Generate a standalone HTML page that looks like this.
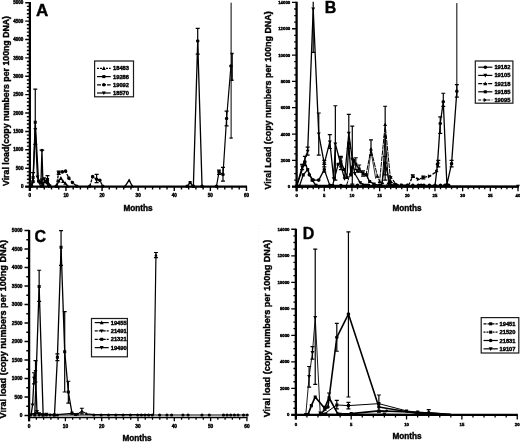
<!DOCTYPE html>
<html lang="en">
<head>
<meta charset="utf-8">
<title>Viral load charts</title>
<style>
html,body{margin:0;padding:0;background:#fff;}
body{width:520px;height:442px;overflow:hidden;}
svg{display:block;font-family:"Liberation Sans",Arial,Helvetica,sans-serif;fill:#000;}
text{stroke:#000;stroke-width:0.4;}
</style>
</head>
<body>
<svg width="520" height="442" viewBox="0 0 520 442">
<rect width="520" height="442" fill="#fff"/>
<g filter="url(#soft)">
<path d="M29.85 2.1V191.1M25.25 186.6H247.05" fill="none" stroke="#000" stroke-width="2.3" stroke-linecap="butt"/>
<path d="M29.85 186.6v4.5M37.07 186.6v3M44.29 186.6v3M51.51 186.6v3M58.73 186.6v3M65.95 186.6v4.5M73.17 186.6v3M80.39 186.6v3M87.61 186.6v3M94.83 186.6v3M102.05 186.6v4.5M109.27 186.6v3M116.49 186.6v3M123.71 186.6v3M130.93 186.6v3M138.15 186.6v4.5M145.37 186.6v3M152.59 186.6v3M159.81 186.6v3M167.03 186.6v3M174.25 186.6v4.5M181.47 186.6v3M188.69 186.6v3M195.91 186.6v3M203.13 186.6v3M210.35 186.6v4.5M217.57 186.6v3M224.79 186.6v3M232.01 186.6v3M239.23 186.6v3M246.45 186.6v4.5M29.85 186.6h-4.6M29.85 182.92h-3M29.85 179.24h-3M29.85 175.57h-3M29.85 171.89h-3M29.85 168.21h-4.6M29.85 164.53h-3M29.85 160.85h-3M29.85 157.18h-3M29.85 153.5h-3M29.85 149.82h-4.6M29.85 146.14h-3M29.85 142.46h-3M29.85 138.79h-3M29.85 135.11h-3M29.85 131.43h-4.6M29.85 127.75h-3M29.85 124.07h-3M29.85 120.4h-3M29.85 116.72h-3M29.85 113.04h-4.6M29.85 109.36h-3M29.85 105.68h-3M29.85 102.01h-3M29.85 98.33h-3M29.85 94.65h-4.6M29.85 90.97h-3M29.85 87.29h-3M29.85 83.62h-3M29.85 79.94h-3M29.85 76.26h-4.6M29.85 72.58h-3M29.85 68.9h-3M29.85 65.23h-3M29.85 61.55h-3M29.85 57.87h-4.6M29.85 54.19h-3M29.85 50.51h-3M29.85 46.84h-3M29.85 43.16h-3M29.85 39.48h-4.6M29.85 35.8h-3M29.85 32.12h-3M29.85 28.45h-3M29.85 24.77h-3M29.85 21.09h-4.6M29.85 17.41h-3M29.85 13.73h-3M29.85 10.06h-3M29.85 6.38h-3M29.85 2.7h-4.6" fill="none" stroke="#000" stroke-width="1.4"/>
<g font-size="4.6" font-weight="bold" text-anchor="middle" stroke-width="0.45">
<text x="29.85" y="196.8">0</text>
<text x="65.95" y="196.8">10</text>
<text x="102.05" y="196.8">20</text>
<text x="138.15" y="196.8">30</text>
<text x="174.25" y="196.8">40</text>
<text x="210.35" y="196.8">50</text>
<text x="246.45" y="196.8">60</text>
</g>
<g font-size="4.6" font-weight="bold" text-anchor="end" stroke-width="0.45">
<text x="23.45" y="188.26">0</text>
<text x="23.45" y="169.87">500</text>
<text x="23.45" y="151.48">1000</text>
<text x="23.45" y="133.09">1500</text>
<text x="23.45" y="114.7">2000</text>
<text x="23.45" y="96.31">2500</text>
<text x="23.45" y="77.92">3000</text>
<text x="23.45" y="59.53">3500</text>
<text x="23.45" y="41.14">4000</text>
<text x="23.45" y="22.75">4500</text>
<text x="23.45" y="4.36">5000</text>
</g>
<text x="36" y="15.7" font-size="17" font-weight="bold" stroke="none">A</text>
<text transform="translate(8.9 101) rotate(-90)" text-anchor="middle" font-size="8.6" font-weight="bold" textLength="170" lengthAdjust="spacingAndGlyphs">Viral load(copy numbers per 100ng DNA)</text>
<text x="138" y="210.5" text-anchor="middle" font-size="8.2" font-weight="bold">Months</text>
<path d="M31.29 185.86L33.1 177.41L35.27 122.23L38.51 181.08L40.68 182.19L42.85 183.66L45.37 181.45L47.54 179.61L49.7 185.86" fill="none" stroke="#000" stroke-width="1.3" stroke-linejoin="round"/>
<path d="M33.1 172.62V182.19M31.1 172.62h4M31.1 182.19h4" fill="none" stroke="#000" stroke-width="1.2"/>
<path d="M35.27 89.13V144.3M33.27 89.13h4M33.27 144.3h4" fill="none" stroke="#000" stroke-width="1.2"/>
<path d="M47.54 175.57V183.66M45.54 175.57h4M45.54 183.66h4" fill="none" stroke="#000" stroke-width="1.2"/>
<path d="M29.76 184.33h3.06v3.06h-3.06zM31.57 175.88h3.06v3.06h-3.06zM33.73 120.7h3.06v3.06h-3.06zM36.98 179.55h3.06v3.06h-3.06zM39.15 180.66h3.06v3.06h-3.06zM41.32 182.13h3.06v3.06h-3.06zM43.84 179.92h3.06v3.06h-3.06zM46.01 178.08h3.06v3.06h-3.06zM48.17 184.33h3.06v3.06h-3.06z" fill="#000"/>
<path d="M31.29 186.23L33.1 181.82L35.27 129.59L37.43 177.04L39.6 183.29L41.76 179.98L44.29 178.88L46.46 182.19L48.62 186.23" fill="none" stroke="#000" stroke-width="1.3" stroke-linejoin="round"/>
<path d="M31.29 188.3L33.27 184.7L29.31 184.7zM33.1 183.89L35.08 180.29L31.12 180.29zM35.27 131.66L37.24 128.06L33.29 128.06zM37.43 179.11L39.41 175.51L35.45 175.51zM39.6 185.36L41.58 181.76L37.62 181.76zM41.76 182.05L43.74 178.45L39.78 178.45zM44.29 180.95L46.27 177.35L42.31 177.35zM46.46 184.26L48.44 180.66L44.48 180.66zM48.62 188.3L50.6 184.7L46.64 184.7z" fill="#000"/>
<path d="M40.86 186.23L41.94 150.19L43.03 186.23" fill="none" stroke="#000" stroke-width="1.3" stroke-linejoin="round"/>
<path d="M39.36 186.23a1.5 1.5 0 1 0 3 0a1.5 1.5 0 1 0 -3 0zM40.44 150.19a1.5 1.5 0 1 0 3 0a1.5 1.5 0 1 0 -3 0zM41.53 186.23a1.5 1.5 0 1 0 3 0a1.5 1.5 0 1 0 -3 0z" fill="#000"/>
<path d="M41.94 150.19V150.19M39.64 150.19h4.6M39.64 150.19h4.6" fill="none" stroke="#000" stroke-width="1.2"/>
<path d="M56.2 186.23L58.73 172.62L62.34 171.89L65.59 171.15L68.84 178.14L72.45 182.55L76.78 186.23" fill="none" stroke="#000" stroke-width="1.3" stroke-linejoin="round" stroke-dasharray="3 1"/>
<path d="M58.73 171.15V174.46M56.73 171.15h4M56.73 174.46h4" fill="none" stroke="#000" stroke-width="1.2"/>
<path d="M54.4 186.23a1.8 1.8 0 1 0 3.6 0a1.8 1.8 0 1 0 -3.6 0zM56.93 172.62a1.8 1.8 0 1 0 3.6 0a1.8 1.8 0 1 0 -3.6 0zM60.54 171.89a1.8 1.8 0 1 0 3.6 0a1.8 1.8 0 1 0 -3.6 0zM63.79 171.15a1.8 1.8 0 1 0 3.6 0a1.8 1.8 0 1 0 -3.6 0zM67.04 178.14a1.8 1.8 0 1 0 3.6 0a1.8 1.8 0 1 0 -3.6 0zM70.65 182.55a1.8 1.8 0 1 0 3.6 0a1.8 1.8 0 1 0 -3.6 0zM74.98 186.23a1.8 1.8 0 1 0 3.6 0a1.8 1.8 0 1 0 -3.6 0z" fill="#000"/>
<path d="M56.56 186.23L58.73 181.08L60.9 178.14L63.06 181.45L65.23 183.29L67.75 186.23" fill="none" stroke="#000" stroke-width="1.3" stroke-linejoin="round"/>
<path d="M56.56 184.16L58.54 187.76L54.58 187.76zM58.73 179.01L60.71 182.61L56.75 182.61zM60.9 176.07L62.88 179.67L58.92 179.67zM63.06 179.38L65.04 182.98L61.08 182.98zM65.23 181.22L67.21 184.82L63.25 184.82zM67.75 184.16L69.73 187.76L65.77 187.76z" fill="#000"/>
<path d="M89.78 186.23L92.66 176.67L96.63 179.24L99.88 180.35L102.77 186.23" fill="none" stroke="#000" stroke-width="1.3" stroke-linejoin="round" stroke-dasharray="3 1"/>
<path d="M96.63 174.46V182.55M94.63 174.46h4M94.63 182.55h4" fill="none" stroke="#000" stroke-width="1.2"/>
<path d="M87.98 186.23a1.8 1.8 0 1 0 3.6 0a1.8 1.8 0 1 0 -3.6 0zM90.86 176.67a1.8 1.8 0 1 0 3.6 0a1.8 1.8 0 1 0 -3.6 0zM94.83 179.24a1.8 1.8 0 1 0 3.6 0a1.8 1.8 0 1 0 -3.6 0zM98.08 180.35a1.8 1.8 0 1 0 3.6 0a1.8 1.8 0 1 0 -3.6 0zM100.97 186.23a1.8 1.8 0 1 0 3.6 0a1.8 1.8 0 1 0 -3.6 0z" fill="#000"/>
<path d="M125.15 186.23L129.12 180.16L132.37 186.23" fill="none" stroke="#000" stroke-width="1.3" stroke-linejoin="round"/>
<path d="M125.15 184.51L126.8 187.51L123.5 187.51zM129.12 178.44L130.78 181.44L127.47 181.44zM132.37 184.51L134.02 187.51L130.72 187.51z" fill="#000"/>
<path d="M187.25 186.23L190.13 182.55L193.02 186.23" fill="none" stroke="#000" stroke-width="1.3" stroke-linejoin="round"/>
<path d="M185.72 184.7h3.06v3.06h-3.06zM188.6 181.02h3.06v3.06h-3.06zM191.49 184.7h3.06v3.06h-3.06z" fill="#000"/>
<path d="M193.38 186.23L197.71 40.95L202.05 186.23" fill="none" stroke="#000" stroke-width="1.3" stroke-linejoin="round"/>
<path d="M197.71 28.45V54.19M195.71 28.45h4M195.71 54.19h4" fill="none" stroke="#000" stroke-width="1.2"/>
<path d="M191.58 186.23a1.8 1.8 0 1 0 3.6 0a1.8 1.8 0 1 0 -3.6 0zM195.91 40.95a1.8 1.8 0 1 0 3.6 0a1.8 1.8 0 1 0 -3.6 0zM200.25 186.23a1.8 1.8 0 1 0 3.6 0a1.8 1.8 0 1 0 -3.6 0z" fill="#000"/>
<path d="M216.49 186.23L219.01 171.89L222.98 174.46L226.59 118.56L230.93 65.96" fill="none" stroke="#000" stroke-width="1.2" stroke-linejoin="round"/>
<path d="M219.01 170.05V174.46M217.01 170.05h4M217.01 174.46h4" fill="none" stroke="#000" stroke-width="1.2"/>
<path d="M222.98 167.47V181.08M220.98 167.47h4M220.98 181.08h4" fill="none" stroke="#000" stroke-width="1.2"/>
<path d="M226.59 111.2V125.91M224.59 111.2h4M224.59 125.91h4" fill="none" stroke="#000" stroke-width="1.2"/>
<path d="M214.69 186.23a1.8 1.8 0 1 0 3.6 0a1.8 1.8 0 1 0 -3.6 0zM217.21 171.89a1.8 1.8 0 1 0 3.6 0a1.8 1.8 0 1 0 -3.6 0zM221.18 174.46a1.8 1.8 0 1 0 3.6 0a1.8 1.8 0 1 0 -3.6 0zM224.79 118.56a1.8 1.8 0 1 0 3.6 0a1.8 1.8 0 1 0 -3.6 0zM229.13 65.96a1.8 1.8 0 1 0 3.6 0a1.8 1.8 0 1 0 -3.6 0z" fill="#000"/>
<path d="M232.01 53.46V80.31M230.41 53.46h3.2M230.41 80.31h3.2" fill="none" stroke="#000" stroke-width="1.6"/>
<path d="M231.11 2.7V138.05M231.11 2.7h0M231.11 138.05h0" fill="none" stroke="#000" stroke-width="1.0"/>
<path d="M231.11 138.05V138.05M229.51 138.05h3.2M229.51 138.05h3.2" fill="none" stroke="#000" stroke-width="0.8"/>
<rect x="94.6" y="61" width="38.9" height="35.8" fill="#fff" stroke="#1a1a1a" stroke-width="1.2"/>
<path d="M97 68.4H110.7" stroke="#000" stroke-width="1.2" fill="none" stroke-dasharray="2 1"/>
<path d="M103.85 66.33L105.83 69.93L101.87 69.93z" fill="#000"/>
<text x="113" y="70.47" font-size="5.75" font-weight="bold" stroke-width="0.35">18483</text>
<path d="M97 76.6H110.7" stroke="#000" stroke-width="1.2" fill="none"/>
<path d="M102.32 75.07h3.06v3.06h-3.06z" fill="#000"/>
<text x="113" y="78.67" font-size="5.75" font-weight="bold" stroke-width="0.35">19286</text>
<path d="M97 84.8H110.7" stroke="#000" stroke-width="1.2" fill="none" stroke-dasharray="4 1"/>
<path d="M102.05 84.8a1.8 1.8 0 1 0 3.6 0a1.8 1.8 0 1 0 -3.6 0z" fill="#000"/>
<text x="113" y="86.87" font-size="5.75" font-weight="bold" stroke-width="0.35">19092</text>
<path d="M97 93H110.7" stroke="#000" stroke-width="1.2" fill="none"/>
<path d="M103.85 95.07L105.83 91.47L101.87 91.47z" fill="#000"/>
<text x="113" y="95.07" font-size="5.75" font-weight="bold" stroke-width="0.35">18570</text>
<path d="M296.6 1.8V191.3M292 186.7H518.6" fill="none" stroke="#000" stroke-width="2.3" stroke-linecap="butt"/>
<path d="M296.6 186.7v4.6M302.14 186.7v2.6M307.67 186.7v2.6M313.21 186.7v2.6M318.74 186.7v2.6M324.28 186.7v4.6M329.81 186.7v2.6M335.35 186.7v2.6M340.88 186.7v2.6M346.42 186.7v2.6M351.95 186.7v4.6M357.49 186.7v2.6M363.02 186.7v2.6M368.56 186.7v2.6M374.09 186.7v2.6M379.62 186.7v4.6M385.16 186.7v2.6M390.7 186.7v2.6M396.23 186.7v2.6M401.77 186.7v2.6M407.3 186.7v4.6M412.84 186.7v2.6M418.37 186.7v2.6M423.91 186.7v2.6M429.44 186.7v2.6M434.98 186.7v4.6M440.51 186.7v2.6M446.05 186.7v2.6M451.58 186.7v2.6M457.12 186.7v2.6M462.65 186.7v4.6M468.19 186.7v2.6M473.72 186.7v2.6M479.25 186.7v2.6M484.79 186.7v2.6M490.33 186.7v4.6M495.86 186.7v2.6M501.4 186.7v2.6M506.93 186.7v2.6M512.47 186.7v2.6M518 186.7v4.6M296.6 186.7h-4.6M296.6 180.12h-2.4M296.6 173.54h-2.4M296.6 166.95h-2.4M296.6 160.37h-4.6M296.6 153.79h-2.4M296.6 147.21h-2.4M296.6 140.63h-2.4M296.6 134.04h-4.6M296.6 127.46h-2.4M296.6 120.88h-2.4M296.6 114.3h-2.4M296.6 107.72h-4.6M296.6 101.13h-2.4M296.6 94.55h-2.4M296.6 87.97h-2.4M296.6 81.39h-4.6M296.6 74.81h-2.4M296.6 68.22h-2.4M296.6 61.64h-2.4M296.6 55.06h-4.6M296.6 48.48h-2.4M296.6 41.9h-2.4M296.6 35.31h-2.4M296.6 28.73h-4.6M296.6 22.15h-2.4M296.6 15.57h-2.4M296.6 8.99h-2.4M296.6 2.4h-4.6" fill="none" stroke="#000" stroke-width="1.3"/>
<g font-size="4.3" font-weight="bold" text-anchor="middle" stroke-width="0.45">
<text x="296.6" y="196.9">0</text>
<text x="324.28" y="196.9">5</text>
<text x="351.95" y="196.9">10</text>
<text x="379.62" y="196.9">15</text>
<text x="407.3" y="196.9">20</text>
<text x="434.98" y="196.9">25</text>
<text x="462.65" y="196.9">30</text>
<text x="490.33" y="196.9">35</text>
<text x="518" y="196.9">40</text>
</g>
<g font-size="4.3" font-weight="bold" text-anchor="end" stroke-width="0.45">
<text x="290.2" y="188.25">0</text>
<text x="290.2" y="161.92">2000</text>
<text x="290.2" y="135.59">4000</text>
<text x="290.2" y="109.26">6000</text>
<text x="290.2" y="82.94">8000</text>
<text x="290.2" y="56.61">10000</text>
<text x="290.2" y="30.28">12000</text>
<text x="290.2" y="3.95">14000</text>
</g>
<text x="324.7" y="13.3" font-size="16" font-weight="bold" stroke="none">B</text>
<text transform="translate(270.8 100.4) rotate(-90)" text-anchor="middle" font-size="8.9" font-weight="bold" textLength="178" lengthAdjust="spacingAndGlyphs">Viral Load (copy numbers per 100ng DNA)</text>
<text x="407" y="210.5" text-anchor="middle" font-size="8.2" font-weight="bold">Months</text>
<path d="M296.6 186.31L302.14 166.95L307.67 151.16L313.21 8.99L318.74 134.04L324.28 163.66L329.81 141.94L333.68 178.8L335.35 143.92L340.88 164.98L344.53 178.8L348.8 133.39L352.28 159.19L354.72 173.54L360.25 182.75L365.79 185.38L374.09 185.91L518 186.31" fill="none" stroke="#000" stroke-width="1.3" stroke-linejoin="round"/>
<path d="M302.14 164.32V169.59M300.14 164.32h4M300.14 169.59h4" fill="none" stroke="#000" stroke-width="1.2"/>
<path d="M307.67 147.21V155.11M305.67 147.21h4M305.67 155.11h4" fill="none" stroke="#000" stroke-width="1.2"/>
<path d="M318.74 112.98V155.11M316.74 112.98h4M316.74 155.11h4" fill="none" stroke="#000" stroke-width="1.2"/>
<path d="M324.28 160.37V166.95M322.28 160.37h4M322.28 166.95h4" fill="none" stroke="#000" stroke-width="1.2"/>
<path d="M329.81 134.7V148.52M327.81 134.7h4M327.81 148.52h4" fill="none" stroke="#000" stroke-width="1.2"/>
<path d="M335.35 105.74V180.12M333.35 105.74h4M333.35 180.12h4" fill="none" stroke="#000" stroke-width="1.2"/>
<path d="M340.88 157.74V169.59M338.88 157.74h4M338.88 169.59h4" fill="none" stroke="#000" stroke-width="1.2"/>
<path d="M348.8 114.3V148.52M346.8 114.3h4M346.8 148.52h4" fill="none" stroke="#000" stroke-width="1.2"/>
<path d="M352.28 126.15V184.07M350.28 126.15h4M350.28 184.07h4" fill="none" stroke="#000" stroke-width="1.2"/>
<path d="M296.6 188.38L298.58 184.78L294.62 184.78zM302.14 169.02L304.12 165.42L300.16 165.42zM307.67 153.23L309.65 149.63L305.69 149.63zM313.21 11.06L315.19 7.46L311.23 7.46zM318.74 136.11L320.72 132.51L316.76 132.51zM324.28 165.73L326.26 162.13L322.3 162.13zM329.81 144.01L331.79 140.41L327.83 140.41zM333.68 180.87L335.66 177.27L331.7 177.27zM335.35 145.99L337.33 142.39L333.37 142.39zM340.88 167.05L342.86 163.45L338.9 163.45zM344.53 180.87L346.51 177.27L342.55 177.27zM348.8 135.46L350.78 131.86L346.82 131.86zM352.28 161.26L354.26 157.66L350.3 157.66zM354.72 175.61L356.7 172.01L352.74 172.01zM360.25 184.82L362.23 181.22L358.27 181.22zM365.79 187.45L367.77 183.85L363.81 183.85zM374.09 187.98L376.07 184.38L372.11 184.38zM518 188.38L519.98 184.78L516.02 184.78z" fill="#000"/>
<path d="M313.21 52.43V52.43M311.21 52.43h4M311.21 52.43h4" fill="none" stroke="#000" stroke-width="1.2"/>
<path d="M313.21 1.75V52.43M313.21 1.75h0M313.21 52.43h0" fill="none" stroke="#000" stroke-width="1.2"/>
<path d="M296.6 186.31L304.9 161.69L309.33 174.85L313.21 180.12L318.74 180.12L324.28 169.59L329.81 185.38L340.88 185.65L351.95 186.04" fill="none" stroke="#000" stroke-width="1.3" stroke-linejoin="round"/>
<path d="M304.9 156.42V165.64M302.9 156.42h4M302.9 165.64h4" fill="none" stroke="#000" stroke-width="1.2"/>
<path d="M324.28 164.32V172.22M322.28 164.32h4M322.28 172.22h4" fill="none" stroke="#000" stroke-width="1.2"/>
<path d="M294.8 186.31a1.8 1.8 0 1 0 3.6 0a1.8 1.8 0 1 0 -3.6 0zM303.1 161.69a1.8 1.8 0 1 0 3.6 0a1.8 1.8 0 1 0 -3.6 0zM307.53 174.85a1.8 1.8 0 1 0 3.6 0a1.8 1.8 0 1 0 -3.6 0zM311.41 180.12a1.8 1.8 0 1 0 3.6 0a1.8 1.8 0 1 0 -3.6 0zM316.94 180.12a1.8 1.8 0 1 0 3.6 0a1.8 1.8 0 1 0 -3.6 0zM322.48 169.59a1.8 1.8 0 1 0 3.6 0a1.8 1.8 0 1 0 -3.6 0zM328.01 185.38a1.8 1.8 0 1 0 3.6 0a1.8 1.8 0 1 0 -3.6 0zM339.08 185.65a1.8 1.8 0 1 0 3.6 0a1.8 1.8 0 1 0 -3.6 0zM350.15 186.04a1.8 1.8 0 1 0 3.6 0a1.8 1.8 0 1 0 -3.6 0z" fill="#000"/>
<path d="M299.37 186.31L303.24 174.85L307.67 169.59L312.1 180.12L315.97 185.38L332.58 185.65L338.11 164.32L340.88 161.69L344.2 169.59L346.97 177.49L348.8 143.26L350.84 174.85L353.61 160.37L355.82 164.32L359.15 168.93L363.02 173.54L366.34 174.85L369.66 181.43L374.09 184.07L379.62 185.38" fill="none" stroke="#000" stroke-width="1.3" stroke-linejoin="round"/>
<path d="M340.88 156.42V166.95M338.88 156.42h4M338.88 166.95h4" fill="none" stroke="#000" stroke-width="1.2"/>
<path d="M355.82 157.74V169.59M353.82 157.74h4M353.82 169.59h4" fill="none" stroke="#000" stroke-width="1.2"/>
<path d="M359.15 164.98V172.22M357.15 164.98h4M357.15 172.22h4" fill="none" stroke="#000" stroke-width="1.2"/>
<path d="M363.02 170.9V176.17M361.02 170.9h4M361.02 176.17h4" fill="none" stroke="#000" stroke-width="1.2"/>
<path d="M297.84 184.78h3.06v3.06h-3.06zM301.71 173.32h3.06v3.06h-3.06zM306.14 168.06h3.06v3.06h-3.06zM310.57 178.59h3.06v3.06h-3.06zM314.44 183.85h3.06v3.06h-3.06zM331.05 184.12h3.06v3.06h-3.06zM336.58 162.79h3.06v3.06h-3.06zM339.35 160.16h3.06v3.06h-3.06zM342.67 168.06h3.06v3.06h-3.06zM345.44 175.96h3.06v3.06h-3.06zM347.27 141.73h3.06v3.06h-3.06zM349.31 173.32h3.06v3.06h-3.06zM352.08 158.84h3.06v3.06h-3.06zM354.29 162.79h3.06v3.06h-3.06zM357.62 167.4h3.06v3.06h-3.06zM361.49 172.01h3.06v3.06h-3.06zM364.81 173.32h3.06v3.06h-3.06zM368.13 179.9h3.06v3.06h-3.06zM372.56 182.54h3.06v3.06h-3.06zM378.1 183.85h3.06v3.06h-3.06z" fill="#000"/>
<path d="M346.42 186.04L351.95 166.95L357.49 170.9L366.12 174.52L370.99 149.05L377.41 176.17L379.62 181.43L385.16 124.57L390.7 181.43L395.12 184.73L407.3 185.65" fill="none" stroke="#000" stroke-width="1.0" stroke-linejoin="round" stroke-dasharray="5 0.8"/>
<path d="M370.99 139.84V155.11M368.99 139.84h4M368.99 155.11h4" fill="none" stroke="#000" stroke-width="1.2"/>
<path d="M385.16 106.27V174.85M383.16 106.27h4M383.16 174.85h4" fill="none" stroke="#000" stroke-width="1.2"/>
<path d="M346.42 183.97L348.4 187.57L344.44 187.57zM351.95 164.88L353.93 168.48L349.97 168.48zM357.49 168.83L359.47 172.43L355.5 172.43zM366.12 172.45L368.1 176.05L364.14 176.05zM370.99 146.98L372.97 150.58L369.01 150.58zM377.41 174.1L379.39 177.7L375.43 177.7zM379.62 179.36L381.61 182.96L377.64 182.96zM385.16 122.5L387.14 126.1L383.18 126.1zM390.7 179.36L392.68 182.96L388.72 182.96zM395.12 182.66L397.1 186.26L393.14 186.26zM407.3 183.58L409.28 187.18L405.32 187.18z" fill="#000"/>
<path d="M367.45 178.8L370.99 151.16L375.75 178.8" fill="none" stroke="#000" stroke-width="0.8" stroke-linejoin="round"/>
<path d="M382.39 182.75L385.16 135.76L388.48 182.75" fill="none" stroke="#000" stroke-width="1.0" stroke-linejoin="round"/>
<path d="M382.39 180.68L384.37 184.28L380.41 184.28zM385.16 133.69L387.14 137.29L383.18 137.29zM388.48 180.68L390.46 184.28L386.5 184.28z" fill="#000"/>
<path d="M381.29 186.04L385.16 163L389.59 182.75L393.46 185.91" fill="none" stroke="#000" stroke-width="1.3" stroke-linejoin="round"/>
<path d="M385.16 156.42V180.12M383.16 156.42h4M383.16 180.12h4" fill="none" stroke="#000" stroke-width="1.2"/>
<path d="M379.49 186.04a1.8 1.8 0 1 0 3.6 0a1.8 1.8 0 1 0 -3.6 0zM383.36 163a1.8 1.8 0 1 0 3.6 0a1.8 1.8 0 1 0 -3.6 0zM387.79 182.75a1.8 1.8 0 1 0 3.6 0a1.8 1.8 0 1 0 -3.6 0zM391.66 185.91a1.8 1.8 0 1 0 3.6 0a1.8 1.8 0 1 0 -3.6 0z" fill="#000"/>
<path d="M387.93 185.91L390.7 176.83L395.68 184.07L401.77 185.12L408.41 185.52L412.84 176.17L418.37 179.33L423.35 177.49L429.44 176.17L436.64 171.56L438.3 163" fill="none" stroke="#000" stroke-width="1.3" stroke-linejoin="round" stroke-dasharray="3 1.5"/>
<path d="M412.84 174.85V177.49M410.84 174.85h4M410.84 177.49h4" fill="none" stroke="#000" stroke-width="1.2"/>
<path d="M423.35 176.17V178.8M421.35 176.17h4M421.35 178.8h4" fill="none" stroke="#000" stroke-width="1.2"/>
<path d="M438.3 160.37V166.95M436.3 160.37h4M436.3 166.95h4" fill="none" stroke="#000" stroke-width="1.2"/>
<path d="M390 185.91L386.4 183.93L386.4 187.89zM392.77 176.83L389.17 174.85L389.17 178.81zM397.75 184.07L394.15 182.09L394.15 186.05zM403.84 185.12L400.24 183.14L400.24 187.1zM410.48 185.52L406.88 183.54L406.88 187.5zM414.91 176.17L411.31 174.19L411.31 178.15zM420.44 179.33L416.84 177.35L416.84 181.31zM425.42 177.49L421.82 175.51L421.82 179.47zM431.51 176.17L427.91 174.19L427.91 178.15zM438.71 171.56L435.11 169.58L435.11 173.54zM440.37 163L436.77 161.02L436.77 164.98z" fill="#000"/>
<path d="M434.98 186.04L437.47 164.32L440.23 123.51L443.28 101.79L446.88 184.73L451.58 163.66L456.84 91.26" fill="none" stroke="#000" stroke-width="1.3" stroke-linejoin="round"/>
<path d="M440.23 116.93V133.39M438.23 116.93h4M438.23 133.39h4" fill="none" stroke="#000" stroke-width="1.2"/>
<path d="M443.28 93.24V106.4M441.28 93.24h4M441.28 106.4h4" fill="none" stroke="#000" stroke-width="1.2"/>
<path d="M451.58 160.37V166.95M449.58 160.37h4M449.58 166.95h4" fill="none" stroke="#000" stroke-width="1.2"/>
<path d="M456.84 84.68V97.18M454.84 84.68h4M454.84 97.18h4" fill="none" stroke="#000" stroke-width="1.2"/>
<path d="M433.18 186.04a1.8 1.8 0 1 0 3.6 0a1.8 1.8 0 1 0 -3.6 0zM435.67 164.32a1.8 1.8 0 1 0 3.6 0a1.8 1.8 0 1 0 -3.6 0zM438.43 123.51a1.8 1.8 0 1 0 3.6 0a1.8 1.8 0 1 0 -3.6 0zM441.48 101.79a1.8 1.8 0 1 0 3.6 0a1.8 1.8 0 1 0 -3.6 0zM445.08 184.73a1.8 1.8 0 1 0 3.6 0a1.8 1.8 0 1 0 -3.6 0zM449.78 163.66a1.8 1.8 0 1 0 3.6 0a1.8 1.8 0 1 0 -3.6 0zM455.04 91.26a1.8 1.8 0 1 0 3.6 0a1.8 1.8 0 1 0 -3.6 0z" fill="#000"/>
<path d="M456.84 3.06V91.26M456.84 3.06h0M456.84 91.26h0" fill="none" stroke="#000" stroke-width="1.0"/>
<path d="M355.79 185.25a1.7 1.7 0 1 0 3.4 0a1.7 1.7 0 1 0 -3.4 0zM361.32 185.25a1.7 1.7 0 1 0 3.4 0a1.7 1.7 0 1 0 -3.4 0zM366.86 185.25a1.7 1.7 0 1 0 3.4 0a1.7 1.7 0 1 0 -3.4 0zM372.39 185.25a1.7 1.7 0 1 0 3.4 0a1.7 1.7 0 1 0 -3.4 0zM377.93 185.25a1.7 1.7 0 1 0 3.4 0a1.7 1.7 0 1 0 -3.4 0zM389 185.25a1.7 1.7 0 1 0 3.4 0a1.7 1.7 0 1 0 -3.4 0zM394.53 185.25a1.7 1.7 0 1 0 3.4 0a1.7 1.7 0 1 0 -3.4 0zM400.07 185.25a1.7 1.7 0 1 0 3.4 0a1.7 1.7 0 1 0 -3.4 0zM405.6 185.25a1.7 1.7 0 1 0 3.4 0a1.7 1.7 0 1 0 -3.4 0zM411.14 185.25a1.7 1.7 0 1 0 3.4 0a1.7 1.7 0 1 0 -3.4 0zM416.67 185.25a1.7 1.7 0 1 0 3.4 0a1.7 1.7 0 1 0 -3.4 0zM419.44 185.25a1.7 1.7 0 1 0 3.4 0a1.7 1.7 0 1 0 -3.4 0zM422.21 185.25a1.7 1.7 0 1 0 3.4 0a1.7 1.7 0 1 0 -3.4 0zM427.74 185.25a1.7 1.7 0 1 0 3.4 0a1.7 1.7 0 1 0 -3.4 0zM433.28 185.25a1.7 1.7 0 1 0 3.4 0a1.7 1.7 0 1 0 -3.4 0zM438.81 185.25a1.7 1.7 0 1 0 3.4 0a1.7 1.7 0 1 0 -3.4 0zM443.24 185.25a1.7 1.7 0 1 0 3.4 0a1.7 1.7 0 1 0 -3.4 0zM447.11 185.25a1.7 1.7 0 1 0 3.4 0a1.7 1.7 0 1 0 -3.4 0z" fill="#000"/>
<path d="M296.6 185.25L448.81 185.25" fill="none" stroke="#000" stroke-width="1.2" stroke-linejoin="round"/>
<path d="M296.6 186.7L518 186.7" fill="none" stroke="#000" stroke-width="1.6" stroke-linejoin="round"/>
<rect x="475.3" y="61" width="37.6" height="42.2" fill="#fff" stroke="#1a1a1a" stroke-width="1.2"/>
<path d="M478.2 67.2H492.4" stroke="#000" stroke-width="1.2" fill="none"/>
<path d="M483.5 67.2a1.8 1.8 0 1 0 3.6 0a1.8 1.8 0 1 0 -3.6 0z" fill="#000"/>
<text x="494.4" y="69.27" font-size="5.75" font-weight="bold" stroke-width="0.35">19182</text>
<path d="M478.2 75.4H492.4" stroke="#000" stroke-width="1.2" fill="none"/>
<path d="M485.3 77.47L487.28 73.87L483.32 73.87z" fill="#000"/>
<text x="494.4" y="77.47" font-size="5.75" font-weight="bold" stroke-width="0.35">19105</text>
<path d="M478.2 83.6H492.4" stroke="#000" stroke-width="1.2" fill="none" stroke-dasharray="4 1"/>
<path d="M485.3 81.53L487.28 85.13L483.32 85.13z" fill="#000"/>
<text x="494.4" y="85.67" font-size="5.75" font-weight="bold" stroke-width="0.35">19218</text>
<path d="M478.2 91.8H492.4" stroke="#000" stroke-width="1.2" fill="none"/>
<path d="M483.77 90.27h3.06v3.06h-3.06z" fill="#000"/>
<text x="494.4" y="93.87" font-size="5.75" font-weight="bold" stroke-width="0.35">19185</text>
<path d="M478.2 100H492.4" stroke="#000" stroke-width="1.2" fill="none" stroke-dasharray="3 1.5"/>
<path d="M487.37 100L483.77 98.02L483.77 101.98z" fill="#000"/>
<text x="494.4" y="102.07" font-size="5.75" font-weight="bold" stroke-width="0.35">19095</text>
<path d="M29.1 229.9V421.3" fill="none" stroke="#000" stroke-width="2.3" stroke-linecap="butt"/>
<path d="M28.6 417.5H246.9" fill="none" stroke="#000" stroke-width="1.3" stroke-linecap="square"/>
<path d="M29.1 417.5v3.8M36.36 417.5v2.3M43.62 417.5v2.3M50.88 417.5v2.3M58.14 417.5v2.3M65.4 417.5v3.8M72.66 417.5v2.3M79.92 417.5v2.3M87.18 417.5v2.3M94.44 417.5v2.3M101.7 417.5v3.8M108.96 417.5v2.3M116.22 417.5v2.3M123.48 417.5v2.3M130.74 417.5v2.3M138 417.5v3.8M145.26 417.5v2.3M152.52 417.5v2.3M159.78 417.5v2.3M167.04 417.5v2.3M174.3 417.5v3.8M181.56 417.5v2.3M188.82 417.5v2.3M196.08 417.5v2.3M203.34 417.5v2.3M210.6 417.5v3.8M217.86 417.5v2.3M225.12 417.5v2.3M232.38 417.5v2.3M239.64 417.5v2.3M246.9 417.5v3.8M29.1 415.5h-4.6M29.1 406.25h-2.8M29.1 397h-4.6M29.1 387.75h-2.8M29.1 378.5h-4.6M29.1 369.25h-2.8M29.1 360h-4.6M29.1 350.75h-2.8M29.1 341.5h-4.6M29.1 332.25h-2.8M29.1 323h-4.6M29.1 313.75h-2.8M29.1 304.5h-4.6M29.1 295.25h-2.8M29.1 286h-4.6M29.1 276.75h-2.8M29.1 267.5h-4.6M29.1 258.25h-2.8M29.1 249h-4.6M29.1 239.75h-2.8M29.1 230.5h-4.6" fill="none" stroke="#000" stroke-width="1.3"/>
<g font-size="4.8" font-weight="bold" text-anchor="middle" stroke-width="0.45">
<text x="29.1" y="427.5">0</text>
<text x="65.4" y="427.5">10</text>
<text x="101.7" y="427.5">20</text>
<text x="138" y="427.5">30</text>
<text x="174.3" y="427.5">40</text>
<text x="210.6" y="427.5">50</text>
<text x="246.9" y="427.5">60</text>
</g>
<g font-size="4.8" font-weight="bold" text-anchor="end" stroke-width="0.45">
<text x="22.5" y="417.23">0</text>
<text x="22.5" y="398.73">500</text>
<text x="22.5" y="380.23">1000</text>
<text x="22.5" y="361.73">1500</text>
<text x="22.5" y="343.23">2000</text>
<text x="22.5" y="324.73">2500</text>
<text x="22.5" y="306.23">3000</text>
<text x="22.5" y="287.73">3500</text>
<text x="22.5" y="269.23">4000</text>
<text x="22.5" y="250.73">4500</text>
<text x="22.5" y="232.23">5000</text>
</g>
<text x="34.5" y="241.8" font-size="16" font-weight="bold" stroke="none">C</text>
<text transform="translate(5.5 329.2) rotate(-90)" text-anchor="middle" font-size="9.1" font-weight="bold" textLength="178.5" lengthAdjust="spacingAndGlyphs">Viral load (copy numbers per 100ng DNA)</text>
<text x="137" y="441" text-anchor="middle" font-size="8.2" font-weight="bold">Months</text>
<path d="M31.12 414.93L32.58 404.94L34.04 378.3L35.5 371.64L36.96 411.6L39.15 413.82L46.45 414.19" fill="none" stroke="#000" stroke-width="1.3" stroke-linejoin="round"/>
<path d="M34.04 372.75V383.85M32.04 372.75h4M32.04 383.85h4" fill="none" stroke="#000" stroke-width="1.2"/>
<path d="M35.5 360.54V382M33.5 360.54h4M33.5 382h4" fill="none" stroke="#000" stroke-width="1.2"/>
<path d="M31.12 417L33.1 413.4L29.14 413.4zM32.58 407.01L34.56 403.41L30.6 403.41zM34.04 380.37L36.02 376.77L32.06 376.77zM35.5 373.71L37.48 370.11L33.52 370.11zM36.96 413.67L38.94 410.07L34.98 410.07zM39.15 415.89L41.13 412.29L37.17 412.29zM46.45 416.26L48.43 412.66L44.47 412.66z" fill="#000"/>
<path d="M34.77 414.93L39.15 286.54L43.16 414.93" fill="none" stroke="#000" stroke-width="1.3" stroke-linejoin="round"/>
<path d="M39.15 270.26V301.34M37.15 270.26h4M37.15 301.34h4" fill="none" stroke="#000" stroke-width="1.2"/>
<path d="M33.24 413.4h3.06v3.06h-3.06zM37.62 285.01h3.06v3.06h-3.06zM41.63 413.4h3.06v3.06h-3.06z" fill="#000"/>
<path d="M54.48 414.93L57.4 357.21L61.05 247.32L64.7 351.66L68.35 391.99L72 413.08L75.65 414.56" fill="none" stroke="#000" stroke-width="1.3" stroke-linejoin="round"/>
<path d="M57.4 353.88V360.54M55.4 353.88h4M55.4 360.54h4" fill="none" stroke="#000" stroke-width="1.2"/>
<path d="M61.05 230.67V265.45M59.05 230.67h4M59.05 265.45h4" fill="none" stroke="#000" stroke-width="1.2"/>
<path d="M64.7 311.7V391.99M62.7 311.7h4M62.7 391.99h4" fill="none" stroke="#000" stroke-width="1.2"/>
<path d="M68.35 381.26V403.09M66.35 381.26h4M66.35 403.09h4" fill="none" stroke="#000" stroke-width="1.2"/>
<path d="M52.95 413.4h3.06v3.06h-3.06zM55.87 355.68h3.06v3.06h-3.06zM59.52 245.79h3.06v3.06h-3.06zM63.17 350.13h3.06v3.06h-3.06zM66.82 390.46h3.06v3.06h-3.06zM70.47 411.55h3.06v3.06h-3.06zM74.12 413.03h3.06v3.06h-3.06z" fill="#000"/>
<path d="M28.2 414.93L35.5 413.08L42.8 414.19L57.4 414.56L72 413.45L77.47 414.19L81.85 411.23L86.6 413.82L93.9 414.56L152.3 414.56L153.58 414.56L155.95 255.09" fill="none" stroke="#000" stroke-width="1.2" stroke-linejoin="round"/>
<path d="M81.85 408.27V413.82M79.85 408.27h4M79.85 413.82h4" fill="none" stroke="#000" stroke-width="1.2"/>
<path d="M155.95 252.5V257.68M153.95 252.5h4M153.95 257.68h4" fill="none" stroke="#000" stroke-width="1.2"/>
<path d="M35.5 411.35L37.15 414.35L33.85 414.35zM72 411.72L73.65 414.72L70.35 414.72zM77.47 412.46L79.12 415.46L75.82 415.46zM81.85 409.5L83.5 412.5L80.2 412.5zM86.6 412.09L88.25 415.09L84.95 415.09zM155.95 253.37L157.6 256.37L154.3 256.37z" fill="#000"/>
<path d="M28.42 415a1.6 1.6 0 1 0 3.2 0a1.6 1.6 0 1 0 -3.2 0zM37.55 415a1.6 1.6 0 1 0 3.2 0a1.6 1.6 0 1 0 -3.2 0zM41.2 415a1.6 1.6 0 1 0 3.2 0a1.6 1.6 0 1 0 -3.2 0zM44.85 415a1.6 1.6 0 1 0 3.2 0a1.6 1.6 0 1 0 -3.2 0zM48.5 415a1.6 1.6 0 1 0 3.2 0a1.6 1.6 0 1 0 -3.2 0zM52.15 415a1.6 1.6 0 1 0 3.2 0a1.6 1.6 0 1 0 -3.2 0zM55.8 415a1.6 1.6 0 1 0 3.2 0a1.6 1.6 0 1 0 -3.2 0zM92.3 415a1.6 1.6 0 1 0 3.2 0a1.6 1.6 0 1 0 -3.2 0zM99.6 415a1.6 1.6 0 1 0 3.2 0a1.6 1.6 0 1 0 -3.2 0zM106.9 415a1.6 1.6 0 1 0 3.2 0a1.6 1.6 0 1 0 -3.2 0zM114.2 415a1.6 1.6 0 1 0 3.2 0a1.6 1.6 0 1 0 -3.2 0zM121.5 415a1.6 1.6 0 1 0 3.2 0a1.6 1.6 0 1 0 -3.2 0zM128.8 415a1.6 1.6 0 1 0 3.2 0a1.6 1.6 0 1 0 -3.2 0zM136.1 415a1.6 1.6 0 1 0 3.2 0a1.6 1.6 0 1 0 -3.2 0zM139.75 415a1.6 1.6 0 1 0 3.2 0a1.6 1.6 0 1 0 -3.2 0zM143.4 415a1.6 1.6 0 1 0 3.2 0a1.6 1.6 0 1 0 -3.2 0zM147.05 415a1.6 1.6 0 1 0 3.2 0a1.6 1.6 0 1 0 -3.2 0zM150.7 415a1.6 1.6 0 1 0 3.2 0a1.6 1.6 0 1 0 -3.2 0zM158 415a1.6 1.6 0 1 0 3.2 0a1.6 1.6 0 1 0 -3.2 0zM165.3 415a1.6 1.6 0 1 0 3.2 0a1.6 1.6 0 1 0 -3.2 0zM170.04 415a1.6 1.6 0 1 0 3.2 0a1.6 1.6 0 1 0 -3.2 0zM181.36 415a1.6 1.6 0 1 0 3.2 0a1.6 1.6 0 1 0 -3.2 0zM186.47 415a1.6 1.6 0 1 0 3.2 0a1.6 1.6 0 1 0 -3.2 0zM200.34 415a1.6 1.6 0 1 0 3.2 0a1.6 1.6 0 1 0 -3.2 0zM207.64 415a1.6 1.6 0 1 0 3.2 0a1.6 1.6 0 1 0 -3.2 0zM221.88 415a1.6 1.6 0 1 0 3.2 0a1.6 1.6 0 1 0 -3.2 0zM225.52 415a1.6 1.6 0 1 0 3.2 0a1.6 1.6 0 1 0 -3.2 0zM229.17 415a1.6 1.6 0 1 0 3.2 0a1.6 1.6 0 1 0 -3.2 0zM232.82 415a1.6 1.6 0 1 0 3.2 0a1.6 1.6 0 1 0 -3.2 0zM236.47 415a1.6 1.6 0 1 0 3.2 0a1.6 1.6 0 1 0 -3.2 0zM241.95 415a1.6 1.6 0 1 0 3.2 0a1.6 1.6 0 1 0 -3.2 0zM245.6 415a1.6 1.6 0 1 0 3.2 0a1.6 1.6 0 1 0 -3.2 0z" fill="#000"/>
<path d="M28.2 415L247.2 415" fill="none" stroke="#000" stroke-width="1.2" stroke-linejoin="round"/>
<rect x="91.5" y="318.5" width="35.9" height="38.3" fill="#fff" stroke="#1a1a1a" stroke-width="1.2"/>
<path d="M94.7 322.6H108.7" stroke="#000" stroke-width="1.2" fill="none"/>
<path d="M101.7 320.53L103.68 324.13L99.72 324.13z" fill="#000"/>
<text x="110.7" y="324.67" font-size="5.75" font-weight="bold" stroke-width="0.35">19455</text>
<path d="M94.7 330.95H108.7" stroke="#000" stroke-width="1.2" fill="none" stroke-dasharray="3 1"/>
<path d="M101.7 333.02L103.68 329.42L99.72 329.42z" fill="#000"/>
<text x="110.7" y="333.02" font-size="5.75" font-weight="bold" stroke-width="0.35">21491</text>
<path d="M94.7 339.3H108.7" stroke="#000" stroke-width="1.2" fill="none" stroke-dasharray="3 1"/>
<path d="M100.17 337.77h3.06v3.06h-3.06z" fill="#000"/>
<text x="110.7" y="341.37" font-size="5.75" font-weight="bold" stroke-width="0.35">21321</text>
<path d="M94.7 347.65H108.7" stroke="#000" stroke-width="1.2" fill="none"/>
<path d="M101.7 349.72L103.68 346.12L99.72 346.12z" fill="#000"/>
<text x="110.7" y="349.72" font-size="5.75" font-weight="bold" stroke-width="0.35">19490</text>
<path d="M295.85 228.66V419.5M291.25 414.9H517.85" fill="none" stroke="#000" stroke-width="2.3" stroke-linecap="butt"/>
<path d="M295.85 414.9v4.6M306.92 414.9v2.6M317.99 414.9v2.6M329.06 414.9v2.6M340.13 414.9v2.6M351.2 414.9v4.6M362.27 414.9v2.6M373.34 414.9v2.6M384.41 414.9v2.6M395.48 414.9v2.6M406.55 414.9v4.6M417.62 414.9v2.6M428.69 414.9v2.6M439.76 414.9v2.6M450.83 414.9v2.6M461.9 414.9v4.6M472.97 414.9v2.6M484.04 414.9v2.6M495.11 414.9v2.6M506.18 414.9v2.6M517.25 414.9v4.6M295.85 414.9h-4.6M295.85 408.27h-2.4M295.85 401.64h-2.4M295.85 395.01h-2.4M295.85 388.38h-4.6M295.85 381.75h-2.4M295.85 375.12h-2.4M295.85 368.49h-2.4M295.85 361.86h-4.6M295.85 355.23h-2.4M295.85 348.6h-2.4M295.85 341.97h-2.4M295.85 335.34h-4.6M295.85 328.71h-2.4M295.85 322.08h-2.4M295.85 315.45h-2.4M295.85 308.82h-4.6M295.85 302.19h-2.4M295.85 295.56h-2.4M295.85 288.93h-2.4M295.85 282.3h-4.6M295.85 275.67h-2.4M295.85 269.04h-2.4M295.85 262.41h-2.4M295.85 255.78h-4.6M295.85 249.15h-2.4M295.85 242.52h-2.4M295.85 235.89h-2.4M295.85 229.26h-4.6" fill="none" stroke="#000" stroke-width="1.3"/>
<g font-size="4.3" font-weight="bold" text-anchor="middle" stroke-width="0.45">
<text x="295.85" y="425.7">0</text>
<text x="351.2" y="425.7">5</text>
<text x="406.55" y="425.7">10</text>
<text x="461.9" y="425.7">15</text>
<text x="517.25" y="425.7">20</text>
</g>
<g font-size="4.3" font-weight="bold" text-anchor="end" stroke-width="0.45">
<text x="289.45" y="416.45">0</text>
<text x="289.45" y="389.93">2000</text>
<text x="289.45" y="363.41">4000</text>
<text x="289.45" y="336.89">6000</text>
<text x="289.45" y="310.37">8000</text>
<text x="289.45" y="283.85">10000</text>
<text x="289.45" y="257.33">12000</text>
<text x="289.45" y="230.81">14000</text>
</g>
<text x="302.7" y="239.4" font-size="16" font-weight="bold" stroke="none">D</text>
<text transform="translate(270.1 328.5) rotate(-90)" text-anchor="middle" font-size="9" font-weight="bold" textLength="177.5" lengthAdjust="spacingAndGlyphs">Viral load (copy numbers per 100ng DNA)</text>
<text x="407" y="439" text-anchor="middle" font-size="8.2" font-weight="bold">Months</text>
<path d="M305.81 414.5L309.13 376.45L312.46 352.58L315.22 317.44L320.2 412.91L325.74 414.1L340.13 414.37L384.41 414.1L428.69 414.5L517.25 414.63" fill="none" stroke="#000" stroke-width="0.9" stroke-linejoin="round"/>
<path d="M309.13 366.5V387.05M307.13 366.5h4M307.13 387.05h4" fill="none" stroke="#000" stroke-width="1.2"/>
<path d="M312.46 346.61V359.21M310.46 346.61h4M310.46 359.21h4" fill="none" stroke="#000" stroke-width="1.2"/>
<path d="M315.22 249.15V384.4M313.22 249.15h4M313.22 384.4h4" fill="none" stroke="#000" stroke-width="1.2"/>
<path d="M305.81 416.57L307.79 412.97L303.83 412.97zM309.13 378.52L311.11 374.92L307.15 374.92zM312.46 354.65L314.44 351.05L310.48 351.05zM315.22 319.51L317.2 315.91L313.24 315.91zM320.2 414.98L322.18 411.38L318.22 411.38zM325.74 416.17L327.72 412.57L323.76 412.57zM340.13 416.44L342.11 412.84L338.15 412.84zM384.41 416.17L386.39 412.57L382.43 412.57zM428.69 416.57L430.67 412.97L426.71 412.97z" fill="#000"/>
<path d="M308.03 414.5L311.35 405.62L315.22 397L324.63 408.27L329.06 397.66L337.92 414.1L351.2 413.57L378.88 410.92L417.62 412.25L450.83 414.5" fill="none" stroke="#000" stroke-width="1.7" stroke-linejoin="round"/>
<path d="M324.63 406.28V410.26M322.63 406.28h4M322.63 410.26h4" fill="none" stroke="#000" stroke-width="1.2"/>
<path d="M329.06 393.02V400.31M327.06 393.02h4M327.06 400.31h4" fill="none" stroke="#000" stroke-width="1.2"/>
<path d="M306.5 412.97h3.06v3.06h-3.06zM309.82 404.09h3.06v3.06h-3.06zM313.69 395.47h3.06v3.06h-3.06zM323.1 406.74h3.06v3.06h-3.06zM327.53 396.13h3.06v3.06h-3.06zM336.39 412.57h3.06v3.06h-3.06zM349.67 412.04h3.06v3.06h-3.06zM377.35 409.39h3.06v3.06h-3.06zM416.09 410.72h3.06v3.06h-3.06z" fill="#000"/>
<path d="M320.2 414.5L327.95 406.94L336.81 337.33L348.43 314.12L378.88 406.94L417.62 413.57L428.69 412.91L450.83 414.63" fill="none" stroke="#000" stroke-width="1.6" stroke-linejoin="round"/>
<path d="M336.81 323.41V351.25M334.81 323.41h4M334.81 351.25h4" fill="none" stroke="#000" stroke-width="1.2"/>
<path d="M348.43 231.91V397M346.43 231.91h4M346.43 397h4" fill="none" stroke="#000" stroke-width="1.2"/>
<path d="M378.88 395.01V412.25M376.88 395.01h4M376.88 412.25h4" fill="none" stroke="#000" stroke-width="1.2"/>
<path d="M428.69 409.6V414.24M426.69 409.6h4M426.69 414.24h4" fill="none" stroke="#000" stroke-width="1.2"/>
<path d="M318.4 414.5a1.8 1.8 0 1 0 3.6 0a1.8 1.8 0 1 0 -3.6 0zM326.15 406.94a1.8 1.8 0 1 0 3.6 0a1.8 1.8 0 1 0 -3.6 0zM335.01 337.33a1.8 1.8 0 1 0 3.6 0a1.8 1.8 0 1 0 -3.6 0zM346.63 314.12a1.8 1.8 0 1 0 3.6 0a1.8 1.8 0 1 0 -3.6 0zM377.07 406.94a1.8 1.8 0 1 0 3.6 0a1.8 1.8 0 1 0 -3.6 0zM415.82 413.57a1.8 1.8 0 1 0 3.6 0a1.8 1.8 0 1 0 -3.6 0zM426.89 412.91a1.8 1.8 0 1 0 3.6 0a1.8 1.8 0 1 0 -3.6 0z" fill="#000"/>
<path d="M323.53 414.5L336.81 404.95L348.43 405.62L378.88 403.63L406.55 410.92L417.62 412.25L445.3 414.5" fill="none" stroke="#000" stroke-width="1.0" stroke-linejoin="round"/>
<path d="M336.81 400.31V408.93M334.81 400.31h4M334.81 408.93h4" fill="none" stroke="#000" stroke-width="1.2"/>
<path d="M348.43 402.3V408.93M346.43 402.3h4M346.43 408.93h4" fill="none" stroke="#000" stroke-width="1.2"/>
<path d="M322 412.97h3.06v3.06h-3.06zM335.28 403.43h3.06v3.06h-3.06zM346.9 404.09h3.06v3.06h-3.06zM377.35 402.1h3.06v3.06h-3.06zM405.02 409.39h3.06v3.06h-3.06zM416.09 410.72h3.06v3.06h-3.06z" fill="#000"/>
<path d="M295.85 414.9L517.25 414.9" fill="none" stroke="#000" stroke-width="1.8" stroke-linejoin="round"/>
<path d="M349.8 413.84a1.4 1.4 0 1 0 2.8 0a1.4 1.4 0 1 0 -2.8 0zM385.22 410.92a1.4 1.4 0 1 0 2.8 0a1.4 1.4 0 1 0 -2.8 0zM416.22 412.25a1.4 1.4 0 1 0 2.8 0a1.4 1.4 0 1 0 -2.8 0zM416.22 413.57a1.4 1.4 0 1 0 2.8 0a1.4 1.4 0 1 0 -2.8 0zM427.29 412.91a1.4 1.4 0 1 0 2.8 0a1.4 1.4 0 1 0 -2.8 0z" fill="#000"/>
<rect x="481.2" y="317.6" width="37.6" height="35.4" fill="#fff" stroke="#1a1a1a" stroke-width="1.2"/>
<path d="M483.5 323.8H497.8" stroke="#000" stroke-width="1.2" fill="none" stroke-dasharray="3 1"/>
<path d="M489.12 322.27h3.06v3.06h-3.06z" fill="#000"/>
<text x="499.5" y="325.87" font-size="5.75" font-weight="bold" stroke-width="0.35">19451</text>
<path d="M483.5 332.15H497.8" stroke="#000" stroke-width="1.2" fill="none" stroke-dasharray="2 1"/>
<path d="M489.12 330.62h3.06v3.06h-3.06z" fill="#000"/>
<text x="499.5" y="334.22" font-size="5.75" font-weight="bold" stroke-width="0.35">21520</text>
<path d="M483.5 340.5H497.8" stroke="#000" stroke-width="1.2" fill="none"/>
<path d="M488.85 340.5a1.8 1.8 0 1 0 3.6 0a1.8 1.8 0 1 0 -3.6 0z" fill="#000"/>
<text x="499.5" y="342.57" font-size="5.75" font-weight="bold" stroke-width="0.35">21831</text>
<path d="M483.5 348.85H497.8" stroke="#000" stroke-width="1.2" fill="none"/>
<path d="M490.65 350.92L492.63 347.32L488.67 347.32z" fill="#000"/>
<text x="499.5" y="350.92" font-size="5.75" font-weight="bold" stroke-width="0.35">19107</text>
<path d="M258.5 225V412" stroke="#efefef" stroke-width="0.7" stroke-dasharray="1 2" fill="none"/>
</g>
<defs><filter id="soft" x="0" y="0" width="520" height="442" filterUnits="userSpaceOnUse"><feGaussianBlur stdDeviation="0.35"/></filter></defs>
</svg>
</body>
</html>
